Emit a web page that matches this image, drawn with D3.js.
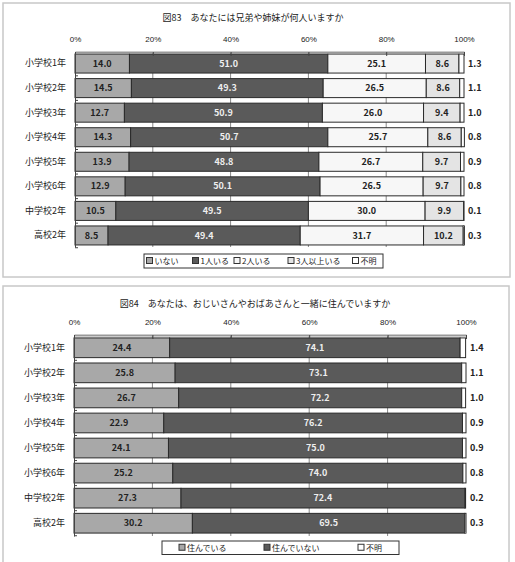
<!DOCTYPE html>
<html>
<head>
<meta charset="utf-8">
<script src="https://cdn.jsdelivr.net/npm/d3@7"></script>
<style>
  body { margin: 0; background: #fff; }
  text { font-family: "Noto Sans CJK JP", "Noto Sans", sans-serif; }
</style>
</head>
<body>
<div id="chart"></div>
<script>
var grades = ['小学校1年','小学校2年','小学校3年','小学校4年','小学校5年','小学校6年','中学校2年','高校2年'];
var ticks = [0,20,40,60,80,100];

// 図83
var sibKeys = ['いない','1人いる','2人いる','3人以上いる','不明'];
var sibNone   = [14.0,14.5,12.7,14.3,13.9,12.9,10.5,8.5];
var sibOne    = [51.0,49.3,50.9,50.7,48.8,50.1,49.5,49.4];
var sibTwo    = [25.1,26.5,26.0,25.7,26.7,26.5,30.0,31.7];
var sibThree  = [8.6,8.6,9.4,8.6,9.7,9.7,9.9,10.2];
var sibNA     = [1.3,1.1,1.0,0.8,0.9,0.8,0.1,0.3];

// 図84
var grandKeys = ['住んでいる','住んでいない','不明'];
var grandYes = [24.4,25.8,26.7,22.9,24.1,25.2,27.3,30.2];
var grandNo  = [74.1,73.1,72.2,76.2,75.0,74.0,72.4,69.5];
var grandNA  = [1.4,1.1,1.0,0.9,0.9,0.8,0.2,0.3];

var W = 515, H = 562;
var svg = d3.select('#chart').append('svg')
            .attr('width', W)
            .attr('height', H);

function drawPanel(p){
    var g = svg.append('g');

    g.append('rect')
        .attr('x', p.box[0]).attr('y', p.box[1])
        .attr('width', p.box[2]).attr('height', p.box[3])
        .attr('fill', '#fff').attr('stroke', '#c8c8c8').attr('stroke-width', 1.5);

    g.append('text')
        .attr('x', p.titleX).attr('y', p.titleY)
        .attr('text-anchor', 'middle')
        .attr('font-size', 9).attr('fill', '#222')
        .text(p.title);

    var rows = grades.map(function(c, i){
        var r = {cat: c};
        p.keys.forEach(function(k, j){ r[k] = p.series[j][i]; });
        return r;
    });

    var x = d3.scaleLinear().domain([0,100]).range(p.xr);
    var y = d3.scaleBand().domain(grades).range(p.yr)
              .paddingInner(p.pi).paddingOuter(p.po);

    // gridlines
    g.append('g').selectAll('line')
        .data(ticks.slice(1, -1))
        .enter().append('line')
        .attr('x1', function(d){ return x(d); })
        .attr('x2', function(d){ return x(d); })
        .attr('y1', p.yr[0]).attr('y2', p.yr[1])
        .attr('stroke', '#888').attr('stroke-width', 1);

    var stack = d3.stack().keys(p.keys)(rows);

    var layer = g.append('g').selectAll('g')
        .data(stack)
        .enter().append('g')
        .attr('fill', function(d, i){ return p.colors[i]; });

    layer.selectAll('rect')
        .data(function(d){ return d; })
        .enter().append('rect')
        .attr('x', function(d){ return x(d[0]); })
        .attr('y', function(d){ return y(d.data.cat); })
        .attr('width', function(d){ return x(d[1]) - x(d[0]); })
        .attr('height', y.bandwidth())
        .attr('stroke', '#2a2a2a').attr('stroke-width', 1);

    // value labels
    stack.forEach(function(s, i){
        var last = i === p.keys.length - 1;
        g.append('g').selectAll('text')
            .data(s)
            .enter().append('text')
            .attr('x', function(d){ return last ? x(100) + 4 : (x(d[0]) + x(d[1])) / 2; })
            .attr('y', function(d){ return y(d.data.cat) + y.bandwidth() / 2; })
            .attr('dy', '0.35em')
            .attr('text-anchor', last ? 'start' : 'middle')
            .attr('font-size', 9).attr('font-weight', 'bold')
            .attr('fill', p.textColors[i])
            .text(function(d){ return (d[1] - d[0]).toFixed(1); });
    });

    // top axis
    var ax = g.append('g')
        .attr('transform', 'translate(0,' + p.yr[0] + ')')
        .call(d3.axisTop(x).tickValues(ticks)
                .tickFormat(function(d){ return d + '%'; })
                .tickSizeInner(-4).tickSizeOuter(0).tickPadding(10));
    ax.select('.domain').attr('stroke', '#999').attr('stroke-width', 2);
    ax.selectAll('line').attr('stroke', '#444');
    ax.selectAll('text').attr('font-size', 8).attr('fill', '#222')
        .style('font-family', 'Arial, "Liberation Sans", sans-serif');

    // left axis
    var ay = g.append('g')
        .attr('transform', 'translate(' + p.xr[0] + ',0)')
        .call(d3.axisLeft(y).tickSize(0).tickPadding(9));
    ay.select('.domain').attr('stroke', '#444');
    ay.selectAll('text').attr('font-size', 9).attr('fill', '#222');

    var step = y.step();
    g.append('g').selectAll('line')
        .data(grades)
        .enter().append('line')
        .attr('x1', p.xr[0]).attr('x2', p.xr[0] + 3)
        .attr('y1', function(d){ return y(d) + y.bandwidth() + (step - y.bandwidth()) / 2; })
        .attr('y2', function(d){ return y(d) + y.bandwidth() + (step - y.bandwidth()) / 2; })
        .attr('stroke', '#444');

    // legend
    var lg = g.append('g');
    lg.append('rect')
        .attr('x', p.legend[0]).attr('y', p.legend[1])
        .attr('width', p.legend[2]).attr('height', p.legend[3])
        .attr('fill', '#fff').attr('stroke', '#333').attr('stroke-width', 1);
    var items = lg.selectAll('g.item')
        .data(p.keys)
        .enter().append('g')
        .attr('class', 'item')
        .attr('transform', function(d, i){
            return 'translate(' + p.legendX[i] + ',' + (p.legend[1] + p.legend[3] / 2) + ')';
        });
    items.append('rect')
        .attr('x', 0).attr('y', -3.5)
        .attr('width', 6).attr('height', 6)
        .attr('fill', function(d, i){ return p.colors[i]; })
        .attr('stroke', '#333');
    items.append('text')
        .attr('x', 8).attr('dy', '0.35em')
        .attr('font-size', 8).attr('fill', '#222')
        .text(function(d){ return d; });
}

drawPanel({
    box: [3, 3, 507, 274],
    title: '図83　あなたには兄弟や姉妹が何人いますか',
    titleX: 253, titleY: 21,
    keys: sibKeys,
    series: [sibNone, sibOne, sibTwo, sibThree, sibNA],
    colors: ['#a8a8a8', '#5a5a5a', '#f7f7f7', '#e4e4e4', '#ffffff'],
    textColors: ['#222', '#eee', '#222', '#222', '#222'],
    xr: [75, 464],
    yr: [52, 247],
    pi: 0.226, po: 0.083,
    legend: [144, 254, 239, 14],
    legendX: [146.5, 192.5, 234, 288, 352.5]
});

drawPanel({
    box: [3, 286, 506, 290],
    title: '図84　あなたは、おじいさんやおばあさんと一緒に住んでいますか',
    titleX: 255, titleY: 307,
    keys: grandKeys,
    series: [grandYes, grandNo, grandNA],
    colors: ['#a8a8a8', '#5a5a5a', '#ffffff'],
    textColors: ['#222', '#eee', '#222'],
    xr: [74, 466],
    yr: [335, 536],
    pi: 0.214, po: 0.117,
    legend: [162, 541, 237, 13.5],
    legendX: [179, 264, 358]
});
</script>
</body>
</html>
